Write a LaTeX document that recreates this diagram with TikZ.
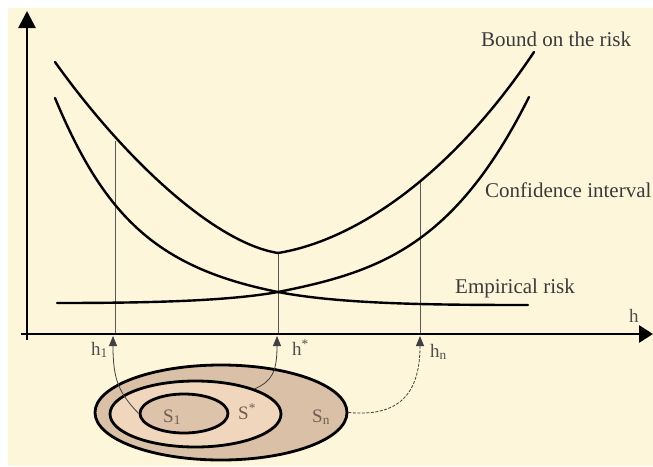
\documentclass[tikz,border=0pt]{standalone}
\usepackage{fontspec}
\setmainfont{Liberation Serif}
\usetikzlibrary{arrows.meta,shapes.geometric}
\definecolor{bgcream}{HTML}{FEF6DA}
\definecolor{tanout}{HTML}{D9C0A6}
\definecolor{tanmid}{HTML}{F1D6BE}
\definecolor{tanin}{HTML}{DCC3AA}
\definecolor{labgray}{HTML}{3A3A3A}
\definecolor{sgray}{HTML}{6E5E52}
\tikzset{
  axis/.style={line width=2.8pt},
  curve/.style={line width=2.4pt, line cap=round},
  guide/.style={line width=0.8pt, draw=black!65},
  link/.style={line width=0.8pt, draw=black!75, -{Triangle[length=10pt,width=8pt]}},
  setell/.style={ellipse, draw, line width=2.8pt, inner sep=0pt},
  curvelabel/.style={font=\fontsize{21}{23}\selectfont, text=labgray, anchor=base west, inner sep=0pt},
  hlabel/.style={font=\fontsize{19}{21}\selectfont, text=labgray!90, anchor=base west, inner sep=0pt},
  slabel/.style={font=\fontsize{19}{21}\selectfont, text=sgray, anchor=base west, inner sep=0pt}
}
\begin{document}
\begin{tikzpicture}[x=1pt,y=-1pt]
\useasboundingbox (0,0) rectangle (653,466);
\fill[white] (0,0) rectangle (653,466);
\fill[bgcream] (8,8) rectangle (653,466);

% guide verticals
\draw[guide] (115,141) -- (115,334);
\draw[guide] (278,253) -- (278,334);
\draw[guide] (420,182) -- (420,334);

% bound on the risk
\draw[curve] (55,62) .. controls (125,160) and (215,243) .. (278,253)
             .. controls (358,240) and (454,172) .. (534,52);
% falling curve
\draw[curve] (55,98) .. controls (105,218) and (158,268) .. (278,292)
             .. controls (340,304) and (430,305) .. (528,305);
% rising curve
\draw[curve] (57,303) .. controls (150,303) and (228,301) .. (278,292)
             .. controls (378,272) and (454,247) .. (529,97);

% axes
\draw[axis, -{Triangle[length=17pt,width=17pt]}] (27,340) -- (27,11);
\draw[axis, -{Triangle[length=14pt,width=17pt]}] (21,334) -- (653,334);

% labels
\node[curvelabel] (lbound) at (481,46) {Bound on the risk};
\node[curvelabel] (lconf) at (485,197) {Confidence interval};
\node[curvelabel] (lemp) at (455,293) {Empirical risk};
\node[hlabel] (lh) at (629,322) {h};

% axis targets
\coordinate (t1) at (113,336);
\coordinate (ts) at (277,336);
\coordinate (tn) at (420,336);
\node[hlabel] (lh1) at (91,355) {h\textsubscript{1}};
\node[hlabel] (lhs) at (292,355) {h\textsuperscript{*}};
\node[hlabel] (lhn) at (430,357) {h\textsubscript{n}};

% nested sets
\node[setell, fill=tanout, minimum width=252pt, minimum height=95pt] (outer) at (221,412.5) {};
\node[setell, fill=tanmid, minimum width=171pt, minimum height=66pt] (middle) at (195.5,414) {};
\node[setell, fill=tanin, minimum width=88pt, minimum height=39pt] (inner) at (184,413.5) {};
\node[slabel] (s1) at (163,422) {S\textsubscript{1}};
\node[slabel] (ss) at (238,419) {S\textsuperscript{*}};
\node[slabel] (sn) at (312,422) {S\textsubscript{n}};

% connectors
\draw[link] (inner.west) .. controls (119,393) and (113,380) .. (t1);
\draw[link] (middle.23) .. controls (272,381) and (277,372) .. (ts);
\draw[link, dash pattern=on 3pt off 1.5pt] (outer.east) .. controls (398,417) and (420,395) .. (tn);
\end{tikzpicture}
\end{document}
